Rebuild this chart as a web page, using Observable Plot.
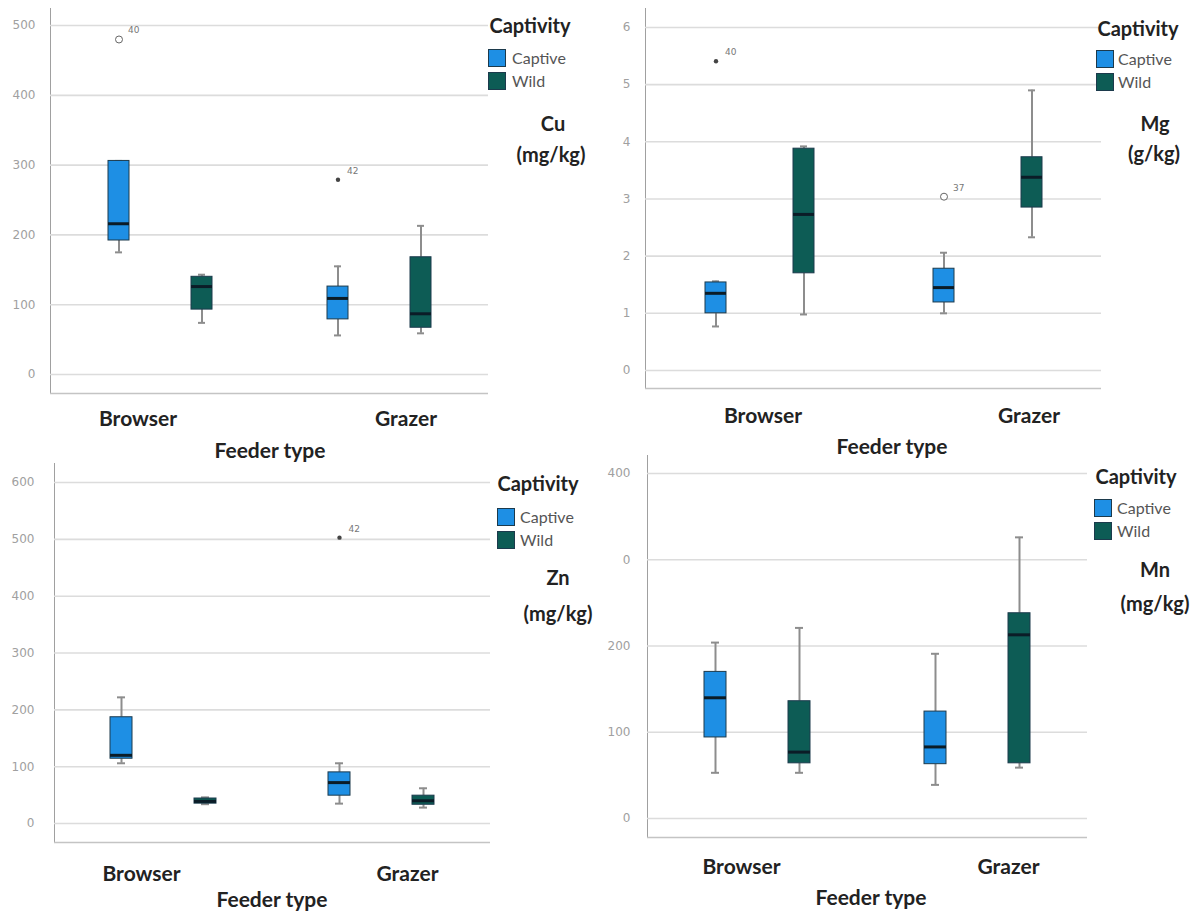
<!DOCTYPE html>
<html><head><meta charset="utf-8">
<script src="https://cdn.jsdelivr.net/npm/d3@7"></script>
<script src="https://cdn.jsdelivr.net/npm/@observablehq/plot@0.6"></script>
<style>
body{margin:0;background:#fff;}
#wrap{position:relative;width:1200px;height:912px;overflow:hidden;background:#fff;font-family:Lato,"Open Sans",sans-serif;}
.panel{position:absolute;}
.lbl{position:absolute;transform:translate(-50%,-50%);white-space:nowrap;line-height:1;color:#222;font-weight:700;}
.leglbl{position:absolute;transform:translate(0,-50%);white-space:nowrap;line-height:1;color:#555;font-size:16px;}
.sw{position:absolute;box-sizing:border-box;width:18px;height:18px;border:1px solid #1c3a4c;}
</style></head><body><div id="wrap"></div>
<script>
// ---- data ----
const feeders = ["Browser", "Grazer"];
const groups = ["Captive", "Wild"];
const boxFeeder = ["Browser", "Browser", "Grazer", "Grazer"];
const boxGroup = ["Captive", "Wild", "Captive", "Wild"];
const groupColors = ["#1e8fe4", "#0d5c55"];

// Cu (mg/kg)
const cuLow = [175, 74, 56, 59];
const cuQ1 = [192, 93, 79, 67];
const cuMed = [216, 126, 109, 87];
const cuQ3 = [306, 140, 126, 168];
const cuHigh = [306, 143, 155, 213];
const cuOut = [480, null, 279, null];
const cuOutId = ["40", null, "42", null];
const cuOutKind = ["circle", null, "star", null];
const cuTicks = [0, 100, 200, 300, 400, 500];

// Mg (g/kg)
const mgLow = [0.77, 0.98, 1.0, 2.33];
const mgQ1 = [1.0, 1.70, 1.19, 2.85];
const mgMed = [1.35, 2.73, 1.45, 3.38];
const mgQ3 = [1.54, 3.88, 1.78, 3.73];
const mgHigh = [1.56, 3.92, 2.06, 4.90];
const mgOut = [5.41, null, 3.04, null];
const mgOutId = ["40", null, "37", null];
const mgOutKind = ["star", null, "circle", null];
const mgTicks = [0, 1, 2, 3, 4, 5, 6];

// Zn (mg/kg)
const znLow = [106, 34, 35, 28];
const znQ1 = [114, 35, 49, 33];
const znMed = [120, 39, 72, 40];
const znQ3 = [187, 44, 90, 49];
const znHigh = [222, 46, 106, 62];
const znOut = [null, null, 503, null];
const znOutId = [null, null, "42", null];
const znOutKind = [null, null, "star", null];
const znTicks = [0, 100, 200, 300, 400, 500, 600];

// Mn (mg/kg)
const mnLow = [53, 53, 39, 59];
const mnQ1 = [94, 64, 63, 64];
const mnMed = [140, 77, 83, 213];
const mnQ3 = [170, 136, 124, 238];
const mnHigh = [204, 221, 191, 326];
const mnOut = [null, null, null, null];
const mnOutId = [null, null, null, null];
const mnOutKind = [null, null, null, null];
const mnTicks = [0, 100, 200, 300, 400];
const mnTickLabels = ["0", "100", "200", "0", "400"];

function buildRows(low, q1, med, q3, high, out, outId, outKind) {
  return boxFeeder.map((f, i) => ({
    feeder: f, group: boxGroup[i], low: low[i], q1: q1[i], med: med[i], q3: q3[i], high: high[i],
    out: out[i], outId: outId[i], outKind: outKind[i]
  }));
}

const wrap = document.getElementById("wrap");

function panel(cfg, rows, ticks, tickLabels) {
  const fmt = tickLabels ? (d => tickLabels[ticks.indexOf(d)]) : (d => String(d));
  const whisker = {stroke: "#8d8d8d", strokeWidth: 2};
  const chart = Plot.plot({
    width: cfg.width, height: cfg.height,
    marginLeft: cfg.mL, marginRight: cfg.mR, marginTop: cfg.mT, marginBottom: cfg.mB,
    style: {fontFamily: "DejaVu Sans, sans-serif", fontSize: "12px", color: "#a0a0a0", background: "transparent", overflow: "visible"},
    facet: {data: rows, x: "feeder"},
    fx: {domain: feeders, padding: 0, axis: null, label: null},
    x: {domain: groups, paddingInner: cfg.pi, paddingOuter: cfg.po, axis: null, label: null},
    y: {domain: cfg.domain, ticks: ticks, tickFormat: fmt, tickSize: 0, tickPadding: cfg.tp, line: true, label: null},
    color: {domain: groups, range: groupColors},
    marks: [
      Plot.ruleY(ticks, {stroke: "#dcdcdc", strokeWidth: 1.6}),
      Plot.ruleY([cfg.domain[0]], {stroke: "#c4c4c4", strokeWidth: 1.6}),
      Plot.ruleX(rows, {x: "group", y1: "low", y2: "q1", ...whisker}),
      Plot.ruleX(rows, {x: "group", y1: "q3", y2: "high", ...whisker}),
      Plot.tickY(rows, {x: "group", y: "low", insetLeft: 7, insetRight: 7, ...whisker}),
      Plot.tickY(rows, {x: "group", y: "high", insetLeft: 7, insetRight: 7, ...whisker}),
      Plot.barY(rows, {x: "group", y1: "q1", y2: "q3", fill: "group", stroke: "#1c3a4c", strokeWidth: 1}),
      Plot.tickY(rows, {x: "group", y: "med", stroke: "#0b1c27", strokeWidth: 3}),
      Plot.dot(rows, {filter: d => d.outKind === "circle", x: "group", y: "out", r: 3.5, stroke: "#666", fill: "white", strokeWidth: 1}),
      Plot.dot(rows, {filter: d => d.outKind === "star", x: "group", y: "out", r: 2.2, fill: "#444", stroke: "none"}),
      Plot.text(rows, {filter: d => d.out != null, x: "group", y: "out", text: "outId", dx: 9, dy: -9, fontSize: 9, fill: "#777", textAnchor: "start"}),
      Plot.text(rows, {filter: d => d.feeder === "Browser" && d.group === "Captive", x: "group", text: "feeder", frameAnchor: "bottom", dy: cfg.ldy, dx: cfg.dxB, fontSize: 21, fontWeight: 700, fill: "#222", fontFamily: "Lato"}),
      Plot.text(rows, {filter: d => d.feeder === "Grazer" && d.group === "Wild", x: "group", text: "feeder", frameAnchor: "bottom", dy: cfg.ldy, dx: cfg.dxG, fontSize: 21, fontWeight: 700, fill: "#222", fontFamily: "Lato"})
    ]
  });
  const div = document.createElement("div");
  div.className = "panel";
  div.style.left = cfg.left + "px";
  div.style.top = cfg.top + "px";
  div.style.width = cfg.width + "px";
  div.appendChild(chart);
  wrap.appendChild(div);
}

function label(text, x, y, size) {
  const el = document.createElement("div");
  el.className = "lbl";
  el.textContent = text;
  el.style.left = x + "px"; el.style.top = y + "px"; el.style.fontSize = size + "px";
  wrap.appendChild(el);
}
function legend(cx, cy, sx, sy1, sy2, lx) {
  label("Captivity", cx, cy, 20);
  [sy1, sy2].forEach((sy, i) => {
    const sw = document.createElement("div");
    sw.className = "sw";
    sw.style.left = sx + "px"; sw.style.top = sy + "px"; sw.style.background = groupColors[i];
    wrap.appendChild(sw);
    const t = document.createElement("div");
    t.className = "leglbl";
    t.textContent = groups[i];
    t.style.left = lx + "px"; t.style.top = (sy + 9) + "px";
    wrap.appendChild(t);
  });
}

panel({left: 0, top: 0, width: 600, height: 440, mL: 50, mR: 112, mT: 8, mB: 47, domain: [-27.2, 524.4], tp: 15, pi: 0.7485, po: 0.686, dxB: 19, dxG: -15, ldy: 32},
  buildRows(cuLow, cuQ1, cuMed, cuQ3, cuHigh, cuOut, cuOutId, cuOutKind), cuTicks);
panel({left: 600, top: 0, width: 600, height: 440, mL: 44, mR: 99, mT: 8, mB: 52, domain: [-0.315, 6.332], tp: 15, pi: 0.764, po: 0.666, dxB: 47, dxG: -3, ldy: 34},
  buildRows(mgLow, mgQ1, mgMed, mgQ3, mgHigh, mgOut, mgOutId, mgOutKind), mgTicks);
panel({left: 0, top: 450, width: 600, height: 462, mL: 53, mR: 110, mT: 13, mB: 70, domain: [-33.4, 633.5], tp: 20, pi: 0.74, po: 0.663, dxB: 20, dxG: -16, ldy: 38},
  buildRows(znLow, znQ1, znMed, znQ3, znHigh, znOut, znOutId, znOutKind), znTicks);
panel({left: 600, top: 450, width: 600, height: 462, mL: 47, mR: 113, mT: 5, mB: 75, domain: [-22, 420.9], tp: 17, pi: 0.74, po: 0.672, dxB: 26, dxG: -11, ldy: 36},
  buildRows(mnLow, mnQ1, mnMed, mnQ3, mnHigh, mnOut, mnOutId, mnOutKind), mnTicks, mnTickLabels);

legend(530, 25, 488, 49, 72, 512);
legend(1138, 28, 1096, 50, 73, 1118);
legend(538, 483, 497, 508, 531, 520);
legend(1136, 476, 1094, 499, 522, 1117);

label("Cu", 553, 123, 20); label("(mg/kg)", 551, 154, 20);
label("Mg", 1155, 123, 20); label("(g/kg)", 1154, 153, 20);
label("Zn", 558, 577, 20); label("(mg/kg)", 558, 613, 20);
label("Mn", 1155, 569, 20); label("(mg/kg)", 1155, 603, 20);

label("Feeder type", 270, 449, 21);
label("Feeder type", 892, 445, 21);
label("Feeder type", 272, 898, 21);
label("Feeder type", 871, 896, 21);
</script></body></html>
